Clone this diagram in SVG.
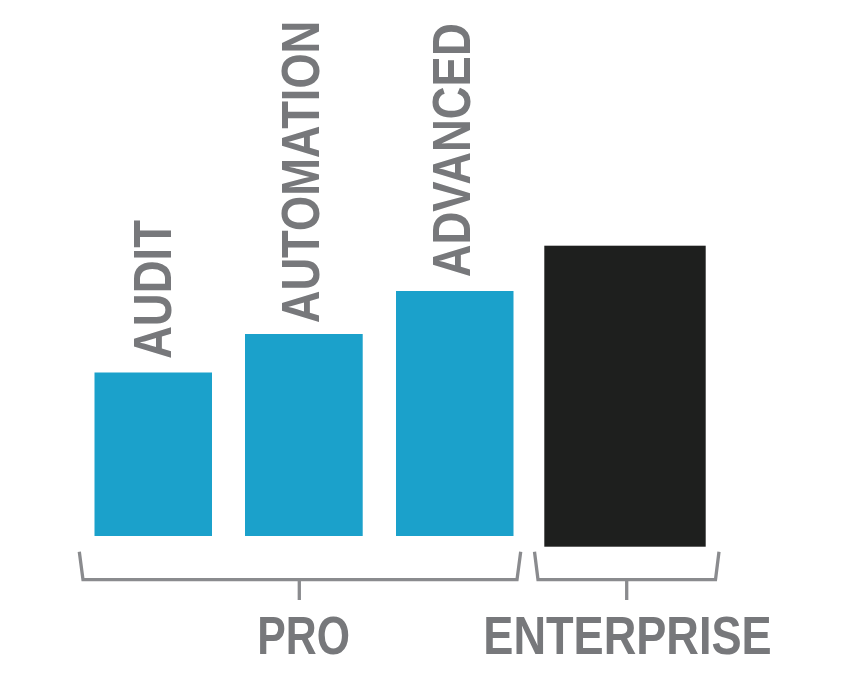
<svg xmlns="http://www.w3.org/2000/svg" width="850" height="676" viewBox="0 0 850 676">
<style>
.lbl{font-family:"Liberation Sans",Arial,sans-serif;font-weight:bold;font-size:54px;fill:#77787b}
.bar{fill:#1ba1cb}
.br{fill:none;stroke:#8a8b8e;stroke-width:3.3;stroke-linejoin:miter}
</style>
<rect width="850" height="676" fill="#ffffff"/>
<g id="audit">
<rect class="bar" x="94.5" y="372.5" width="117.5" height="163.5"/>
<text class="lbl" transform="translate(171,359) rotate(-90)" textLength="139" lengthAdjust="spacingAndGlyphs">AUDIT</text>
</g>
<g id="automation">
<rect class="bar" x="245" y="334" width="117.7" height="202"/>
<text class="lbl" transform="translate(319,323.3) rotate(-90)" textLength="302.6" lengthAdjust="spacingAndGlyphs">AUTOMATION</text>
</g>
<g id="advanced">
<rect class="bar" x="396" y="291" width="117.5" height="245"/>
<text class="lbl" transform="translate(470,277.3) rotate(-90)" textLength="254" lengthAdjust="spacingAndGlyphs">ADVANCED</text>
</g>
<g id="enterprise-bar">
<rect x="544.3" y="245.7" width="161.4" height="301" fill="#1e1f1e"/>
</g>
<g id="connectors">
<path class="br" d="M79.3,551.7 L83,579.7 L517,579.7 L520.7,551.7 M299.3,579.7 L299.3,600"/>
<path class="br" d="M534.5,551.7 L538,579.7 L715.5,579.7 L719,551.7 M626.7,579.7 L626.7,600"/>
</g>
<g id="pro">
<text class="lbl" x="257.3" y="654.3" textLength="92.7" lengthAdjust="spacingAndGlyphs">PRO</text>
</g>
<g id="enterprise">
<text class="lbl" x="483.3" y="654" textLength="288.4" lengthAdjust="spacingAndGlyphs">ENTERPRISE</text>
</g>
</svg>
